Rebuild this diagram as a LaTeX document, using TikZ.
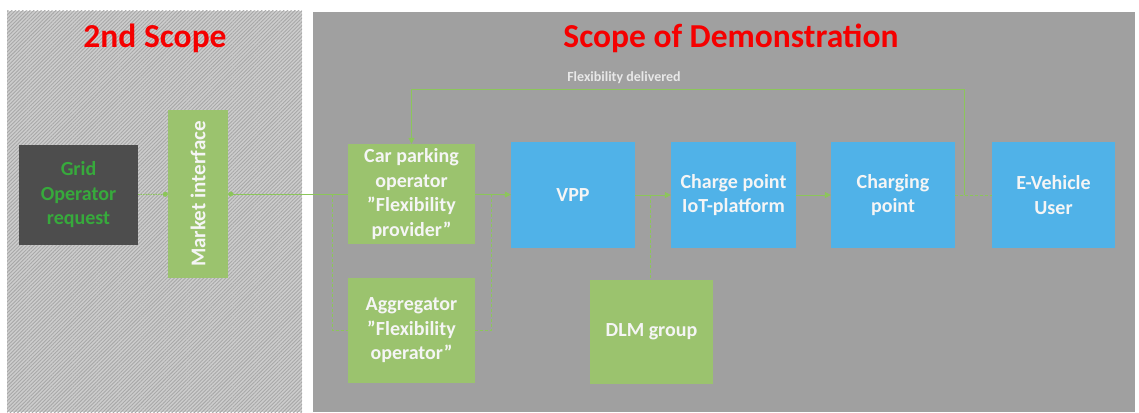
\documentclass[tikz,border=0pt]{standalone}
\usepackage{fontspec}
\setmainfont{Carlito}
\usetikzlibrary{arrows.meta,patterns.meta}
\definecolor{boxgreen}{RGB}{155,195,110}
\definecolor{boxblue}{RGB}{80,178,232}
\definecolor{linegreen}{RGB}{140,198,90}
\definecolor{panelgray}{RGB}{160,160,160}
\definecolor{hatchbg}{RGB}{205,205,205}
\definecolor{hatchline}{RGB}{168,168,168}
\definecolor{darkbox}{RGB}{77,77,77}
\definecolor{gridtext}{RGB}{55,170,60}
\definecolor{titlered}{RGB}{245,0,0}
\definecolor{boxtext}{RGB}{245,245,245}
\definecolor{labeltext}{RGB}{232,232,232}
\begin{document}
\begin{tikzpicture}[x=1pt,y=-1pt,
  boxfont/.style={font=\bfseries\fontsize{20}{24.5}\selectfont},
  gbox/.style={boxfont, fill=boxgreen, text=boxtext, align=center, inner sep=0pt},
  bbox/.style={boxfont, fill=boxblue, text=boxtext, align=center, inner sep=0pt},
  titlestyle/.style={font=\bfseries\fontsize{33.5}{40}\selectfont, text=titlered},
  conn/.style={draw=linegreen, line width=0.9pt},
  arr/.style={conn, -{Triangle[width=6pt,length=6pt]}},
  dconn/.style={conn, dash pattern=on 3pt off 2pt},
  dotconn/.style={conn, dash pattern=on 1.5pt off 1pt}
]
\useasboundingbox (0,0) rectangle (1139,412);
\fill[white] (0,0) rectangle (1139,412);
% left hatched panel
\fill[hatchbg] (7,11) rectangle (302,412);
\fill[pattern={Lines[angle=45,distance=2.6pt,line width=0.9pt]}, pattern color=hatchline] (7,11) rectangle (302,412);
% right panel
\fill[panelgray] (313,12) rectangle (1135,412);

% titles
\node[titlestyle] (t2) at (155,38) {2nd Scope};
\node[titlestyle] (t1) at (731,38) {Scope of Demonstration};

% boxes
\node[boxfont, fill=darkbox, text=gridtext, align=center, inner sep=0pt,
      minimum width=119, minimum height=100] (grid) at (78.5,195) {Grid\\Operator\\request};
\node[gbox, rotate=90, minimum width=168, minimum height=60,
      font=\bfseries\fontsize{21}{24.5}\selectfont] (market) at (198,194) {Market interface};
\node[gbox, minimum width=127, minimum height=100] (car) at (411.5,194) {Car parking\\operator\\”Flexibility\\provider”};
\node[gbox, minimum width=127, minimum height=105] (agg) at (411.5,330.5) {Aggregator\\”Flexibility\\operator”};
\node[bbox, minimum width=124, minimum height=106] (vpp) at (573,195) {VPP};
\node[bbox, minimum width=125, minimum height=106] (iot) at (733.5,195) {Charge point\\IoT-platform};
\node[bbox, minimum width=124, minimum height=106] (chg) at (893,195) {Charging\\point};
\node[bbox, minimum width=123, minimum height=106] (ev) at (1053.5,195) {E-Vehicle\\User};
\node[gbox, minimum width=123, minimum height=104] (dlm) at (651.5,332) {DLM group};

% connector helper coordinates
\coordinate (bl) at (332,194);
\coordinate (br) at (491,194);
\coordinate (dl) at (650,195);
\coordinate (fd) at (964,195);
\coordinate (ft) at (964,89);

% connectors
\draw[dotconn, -{Circle[length=5pt]}] (grid) -- (market);
\draw[conn, -{Circle[length=5pt]}] (car) -- (market);
\draw[arr] (car) -- (vpp);
\draw[arr] (vpp) -- (iot);
\draw[arr] (iot) -- (chg);
\draw[dconn] (chg) -- (ev);
\draw[dconn] (bl) |- (agg.west);
\draw[dconn] (br) |- (agg.east);
\draw[dconn] (dl) -- (dl |- dlm.north);
\draw[arr] (fd) -- (ft) -| (car.north);
\node[font=\bfseries\fontsize{14}{16}\selectfont, text=labeltext] (fdl) at (624,78) {Flexibility delivered};
\end{tikzpicture}
\end{document}
